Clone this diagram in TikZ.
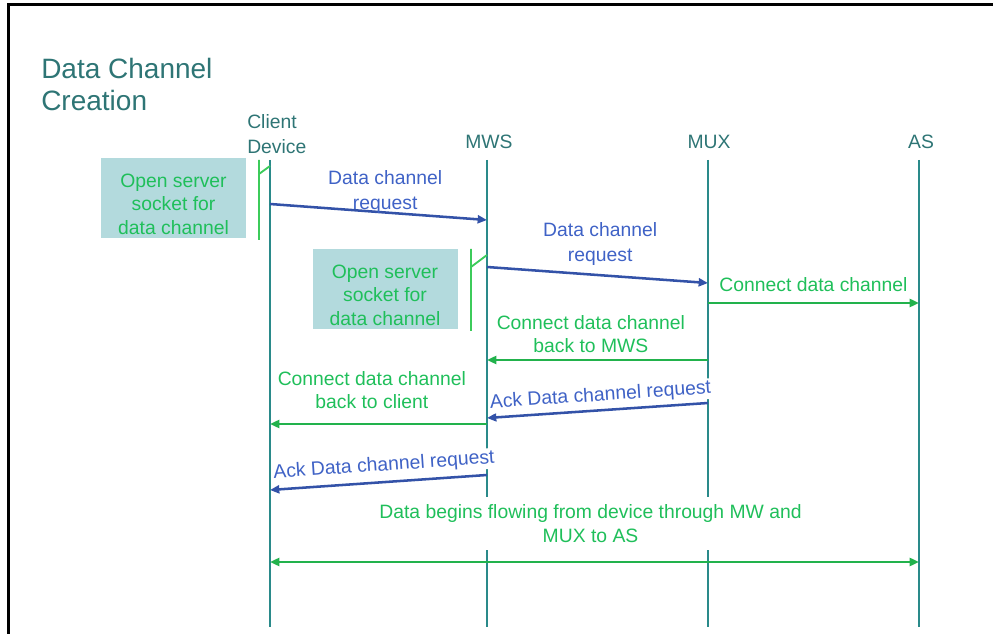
\documentclass[tikz,border=0pt]{standalone}
\usepackage{fontspec}
\setmainfont{Liberation Sans}
\usepackage{tikz}
\usetikzlibrary{arrows.meta}
\definecolor{dcteal}{HTML}{2A8A8A}
\definecolor{dctitle}{HTML}{2E7575}
\definecolor{dcblue}{HTML}{3352A8}
\definecolor{dcbluetxt}{HTML}{3F62C6}
\definecolor{dcgreen}{HTML}{22B24C}
\definecolor{dcgreentxt}{HTML}{1FBF5A}
\definecolor{dcact}{HTML}{3CCB5A}
\definecolor{notebg}{HTML}{B3DADD}
\newcommand{\socktext}{\rule{0pt}{19pt}Open server\\socket for\\data channel}
\tikzset{
  head/.style={text=dctitle, inner sep=0pt,
    font=\fontsize{14.5}{18.75}\selectfont},
  lifeline/.style={draw=dcteal, line width=1.5pt},
  actbar/.style={draw=dcact, line width=1.4pt},
  note/.style={rectangle, fill=notebg, text=dcgreentxt, align=center,
    font=\fontsize{14.5}{17.6}\selectfont, inner sep=1pt,
    minimum width=108.75pt, minimum height=60.5pt},
  req/.style={-{Triangle[length=7pt,width=6pt]}, draw=dcblue, line width=1.9pt},
  conn/.style={-{Triangle[length=7pt,width=6pt]}, draw=dcgreen, line width=1.8pt},
  reqlbl/.style={text=dcbluetxt, align=center, inner sep=0pt,
    font=\fontsize{14.5}{18.75}\selectfont},
  acklbl/.style={reqlbl, fill=white, inner sep=1pt},
  connlbl/.style={text=dcgreentxt, align=center, inner sep=0pt,
    font=\fontsize{14.5}{17.5}\selectfont},
}

\begin{document}
\begin{tikzpicture}[x=0.75pt, y=-0.75pt]
  \useasboundingbox (0,0) rectangle (993,634);
  \draw[line width=2.2pt] (8.5,634) -- (8.5,4.5) -- (993,4.5);

  \node[head, anchor=north west, align=left,
    font=\fontsize{21}{24}\selectfont] (title) at (41,58)
    {Data Channel\\Creation};

  % lifeline heads
  \node[head, anchor=north west, align=left] (clh) at (247,114) {Client\\Device};
  \node[head, anchor=base] (mwsh) at (489,149) {MWS};
  \node[head, anchor=base] (muxh) at (709,149) {MUX};
  \node[head, anchor=base] (ash)  at (921,149) {AS};

  \foreach \n/\x in {cl/270, mws/487, mux/708, as/919} {
    \coordinate (\n) at (\x,160);
    \coordinate (\n-end) at (\x,627);
    \draw[lifeline] (\n) -- (\n-end);
  }

  % server sockets
  \node[note] (sock1) at (173.5,198) {\socktext};
  \node[note] (sock2) at (385,289) {\socktext};
  \draw[actbar] (259,160) -- (259,240) (259,174) -- (270,166);
  \draw[actbar] (471,249) -- (471,331) (471,267) -- (487,255);

  % message ends
  \path (cl |- 0,204) coordinate (m1a)  (mws |- 0,220) coordinate (m1b)
        (mws |- 0,267) coordinate (m2a) (mux |- 0,283) coordinate (m2b)
        (mux |- 0,303) coordinate (m3a) (as |- 0,303)  coordinate (m3b)
        (mux |- 0,360) coordinate (m4a) (mws |- 0,360) coordinate (m4b)
        (mux |- 0,403) coordinate (m5a) (mws |- 0,418) coordinate (m5b)
        (mws |- 0,424) coordinate (m6a) (cl |- 0,424)  coordinate (m6b)
        (mws |- 0,475) coordinate (m7a) (cl |- 0,490)  coordinate (m7b)
        (cl |- 0,562)  coordinate (m8a) (as |- 0,562)  coordinate (m8b);

  \draw[req] (m1a) -- (m1b)
    node[reqlbl, midway, above=-2pt, xshift=5pt] {Data channel\\request};
  \draw[req] (m2a) -- (m2b)
    node[reqlbl, midway, above=6pt, xshift=2pt] {Data channel\\request};
  \draw[conn] (m3a) -- (m3b)
    node[connlbl, midway, above=7.5pt] {Connect data channel};
  \draw[conn] (m4a) -- (m4b)
    node[connlbl, midway, above=4.5pt, xshift=-5pt] {Connect data channel\\back to MWS};
  \draw[req] (m5a) -- (m5b)
    node[acklbl, midway, sloped, above=2pt, xshift=3pt] {Ack Data channel request};
  \draw[conn] (m6a) -- (m6b)
    node[connlbl, midway, above=10.5pt, xshift=-5pt] {Connect data channel\\back to client};
  \draw[req] (m7a) -- (m7b)
    node[acklbl, midway, sloped, above=3.5pt, xshift=5pt] {Ack Data channel request};
  \draw[conn, {Triangle[length=7pt,width=6pt]}-{Triangle[length=7pt,width=6pt]}] (m8a) -- (m8b)
    node[connlbl, fill=white, inner xsep=2pt, inner ysep=6pt, midway, above=7.75pt, xshift=-3pt]
    {Data begins flowing from device through MW and\\MUX to AS};
\end{tikzpicture}
\end{document}
